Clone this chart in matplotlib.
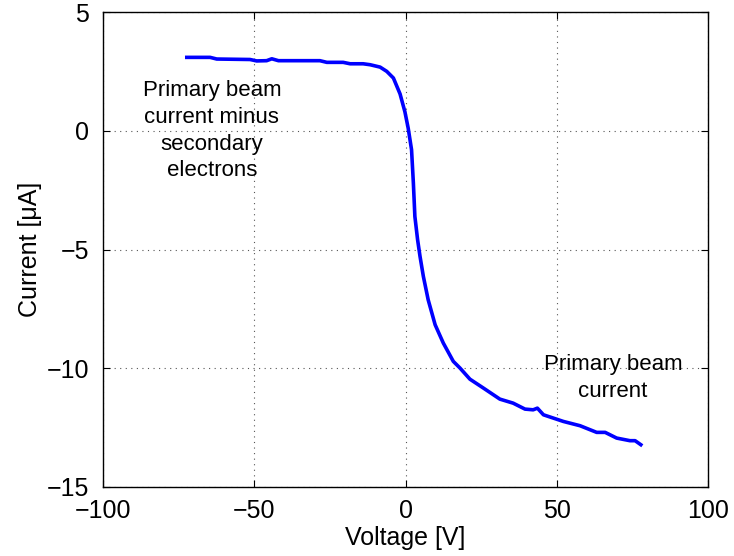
import numpy as np
import matplotlib
matplotlib.use("Agg")
import matplotlib.pyplot as plt

# voltage [V] and current [uA]
voltage = [-72.3, -64.6, -62.4, -51.4, -49.2, -45.9, -44.2, -42.0, -28.3, -26.0,
           -20.6, -18.3, -14.0, -11.7, -8.4, -6.2, -4.0, -1.8, -0.2, 0.9,
           2.0, 2.6, 3.1, 4.0, 4.8, 5.9, 7.5, 9.8, 12.5, 15.8,
           18.0, 21.3, 25.7, 31.2, 35.6, 39.5, 42.2, 43.6, 45.6, 52.2,
           57.7, 63.2, 66.0, 69.8, 74.2, 75.9, 77.8]
current = [3.09, 3.09, 3.02, 3.00, 2.94, 2.95, 3.03, 2.95, 2.95, 2.88,
           2.88, 2.82, 2.82, 2.78, 2.68, 2.50, 2.22, 1.55, 0.80, 0.10,
           -0.80, -2.20, -3.61, -4.59, -5.29, -6.13, -7.12, -8.17, -8.94, -9.71,
           -9.99, -10.46, -10.83, -11.30, -11.47, -11.72, -11.75, -11.68, -11.96, -12.24,
           -12.42, -12.70, -12.70, -12.94, -13.05, -13.05, -13.22]

xticks = [-100, -50, 0, 50, 100]
yticks = [-15, -10, -5, 0, 5]

plt.rcParams['font.family'] = ['Liberation Sans', 'DejaVu Sans']
plt.rcParams['axes.unicode_minus'] = True

fig = plt.figure(figsize=(7.34, 5.56), dpi=100, facecolor="white")
ax = fig.add_axes([103/734, 1-487/556, (708-103)/734, (487-12)/556])

ax.plot(voltage, current, color="#0000ff", linewidth=2.6)

ax.set_xlim(-100, 100)
ax.set_ylim(-15, 5)
ax.set_xticks(xticks)
ax.set_yticks(yticks)
ax.tick_params(direction="in", labelsize=18, length=5, width=0.8, top=True, right=True)
ax.tick_params(axis="x", pad=9)
ax.tick_params(axis="y", pad=10)
for s in ax.spines.values():
    s.set_linewidth(1.0)
ax.grid(True, linestyle=(0, (1, 4)), color="#555555", linewidth=0.8)

ax.set_xlabel("Voltage [V]", fontsize=18, labelpad=2)
ax.set_ylabel("Current [\u03bcA]", fontsize=18, labelpad=3)

ax.text(-64, 0.0, "Primary beam\ncurrent minus\nsecondary\nelectrons",
        ha="center", va="center", fontsize=16, linespacing=1.35)
ax.text(68.6, -10.4, "Primary beam\ncurrent", ha="center", va="center",
        fontsize=16, linespacing=1.35)

fig.savefig("out.png", dpi=100)
